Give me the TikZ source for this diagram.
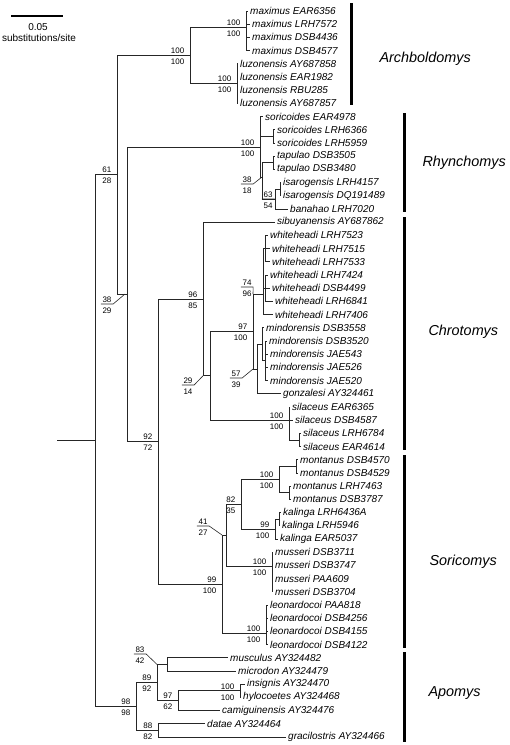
\documentclass[tikz,border=0pt]{standalone}
\usepackage{fontspec}
\setmainfont{Liberation Sans}
\tikzset{
  branch/.style={line width=0.9pt, color=black!85},
  leader/.style={line width=0.6pt, color=black!85},
  taxon/.style={anchor=west, inner xsep=2pt, inner ysep=1pt, font=\fontsize{10}{12}\selectfont\itshape},
  bsval/.style={inner sep=1.5pt, font=\fontsize{8}{9}\selectfont},
  genus/.style={anchor=west, font=\fontsize{14.4}{17}\selectfont\itshape},
  genusbar/.style={line width=3pt},
}
% support values above / below a stem
\newcommand{\bsupp}[3]{%
  \node[bsval, anchor=south east] (#1up) at ([xshift=-4pt]#1) {#2};
  \node[bsval, anchor=north east] (#1dn) at ([xshift=-4pt,yshift=-2pt]#1) {#3};}
% support values with an underline and a leader to the node
\newcommand{\leadsupp}[5]{%
  \node[bsval, anchor=south] (#1up) at (#2) {#4};
  \node[bsval, anchor=north] (#1dn) at ([yshift=-2pt]#2) {#5};
  \draw[leader] (#1up.south west) -- (#1up.south east) -- (#3);}

\begin{document}
\begin{tikzpicture}[x=1pt, y=-1pt]
  \useasboundingbox (0,0) rectangle (510,745);

  % scale bar
  \draw[line width=1.2pt] (11,16) -- (63,16);
  \node (scnum) at (38,27) {\fontsize{10}{12}\selectfont 0.05};
  \node (sctxt) at (39,38) {\fontsize{10}{12}\selectfont substitutions/site};

  % internal nodes
  \coordinate (root) at (57,440.6);
  \coordinate (nC) at (95,440.6);
  \coordinate (nA) at (117,174.7);
  \coordinate (nAr) at (190,55.3);
  \coordinate (mx) at (246,27);
  \coordinate (lz) at (237,83.6);
  \coordinate (nB) at (127,294);
  \coordinate (nRh) at (260,147);
  \coordinate (sorP) at (273,136.4);
  \coordinate (nR2) at (262,177);
  \coordinate (tapP) at (273,162.8);
  \coordinate (isaB) at (275,199.1);
  \coordinate (isaP) at (280,189.2);
  \coordinate (n92) at (158,441.5);
  \coordinate (n96) at (203,299);
  \coordinate (n29) at (210,375.8);
  \coordinate (n97) at (253,331.5);
  \coordinate (wh) at (263,294);
  \coordinate (whA) at (265,248.6);
  \coordinate (whB) at (265.5,288.2);
  \coordinate (n57) at (257,369);
  \coordinate (mi) at (262,344.3);
  \coordinate (mi2) at (265,360.8);
  \coordinate (si) at (289,420);
  \coordinate (si2) at (299,440);
  \coordinate (n99) at (222,584);
  \coordinate (n41) at (226,535);
  \coordinate (n82) at (241,504.4);
  \coordinate (mo) at (279,479.6);
  \coordinate (mo1) at (296,466.4);
  \coordinate (mo2) at (289,492.8);
  \coordinate (ka) at (275,529.1);
  \coordinate (ka1) at (279,519.2);
  \coordinate (mu) at (272,566);
  \coordinate (le) at (266,633);
  \coordinate (n98) at (136,706.5);
  \coordinate (n89) at (157,682.5);
  \coordinate (n83) at (167,664.4);
  \coordinate (n97b) at (178,700.7);
  \coordinate (ins) at (240,690.8);
  \coordinate (n88) at (158,730.4);

  % taxa
  \node[taxon] (t1) at (248,11.0) {maximus EAR6356};
  \node[taxon] (t2) at (250,24.2) {maximus LRH7572};
  \node[taxon] (t3) at (250,37.4) {maximus DSB4436};
  \node[taxon] (t4) at (250,50.6) {maximus DSB4577};
  \node[taxon] (t5) at (238,63.8) {luzonensis AY687858};
  \node[taxon] (t6) at (238,77.0) {luzonensis EAR1982};
  \node[taxon] (t7) at (238,90.2) {luzonensis RBU285};
  \node[taxon] (t8) at (238,103.4) {luzonensis AY687857};
  \node[taxon] (t9) at (263,116.6) {soricoides EAR4978};
  \node[taxon] (t10) at (275,129.8) {soricoides LRH6366};
  \node[taxon] (t11) at (275,143.0) {soricoides LRH5959};
  \node[taxon] (t12) at (275,156.2) {tapulao DSB3505};
  \node[taxon] (t13) at (275,169.4) {tapulao DSB3480};
  \node[taxon] (t14) at (281,182.6) {isarogensis LRH4157};
  \node[taxon] (t15) at (281,195.8) {isarogensis DQ191489};
  \node[taxon] (t16) at (288,209.0) {banahao LRH7020};
  \node[taxon] (t17) at (275,222.2) {sibuyanensis AY687862};
  \node[taxon] (t18) at (268,235.4) {whiteheadi LRH7523};
  \node[taxon] (t19) at (270,248.6) {whiteheadi LRH7515};
  \node[taxon] (t20) at (270,261.8) {whiteheadi LRH7533};
  \node[taxon] (t21) at (268,275.0) {whiteheadi LRH7424};
  \node[taxon] (t22) at (270,288.2) {whiteheadi DSB4499};
  \node[taxon] (t23) at (273,301.4) {whiteheadi LRH6841};
  \node[taxon] (t24) at (273,314.6) {whiteheadi LRH7406};
  \node[taxon] (t25) at (264,327.8) {mindorensis DSB3558};
  \node[taxon] (t26) at (267,341.0) {mindorensis DSB3520};
  \node[taxon] (t27) at (268,354.2) {mindorensis JAE543};
  \node[taxon] (t28) at (268,367.4) {mindorensis JAE526};
  \node[taxon] (t29) at (268,380.6) {mindorensis JAE520};
  \node[taxon] (t30) at (281,393.8) {gonzalesi AY324461};
  \node[taxon] (t31) at (290,407.0) {silaceus EAR6365};
  \node[taxon] (t32) at (293,420.2) {silaceus DSB4587};
  \node[taxon] (t33) at (301,433.4) {silaceus LRH6784};
  \node[taxon] (t34) at (301,446.6) {silaceus EAR4614};
  \node[taxon] (t35) at (298,459.8) {montanus DSB4570};
  \node[taxon] (t36) at (298,473.0) {montanus DSB4529};
  \node[taxon] (t37) at (291,486.2) {montanus LRH7463};
  \node[taxon] (t38) at (291,499.4) {montanus DSB3787};
  \node[taxon] (t39) at (281,512.6) {kalinga LRH6436A};
  \node[taxon] (t40) at (280,525.8) {kalinga LRH5946};
  \node[taxon] (t41) at (278,539.0) {kalinga EAR5037};
  \node[taxon] (t42) at (273,552.2) {musseri DSB3711};
  \node[taxon] (t43) at (273,565.4) {musseri DSB3747};
  \node[taxon] (t44) at (273,578.6) {musseri PAA609};
  \node[taxon] (t45) at (273,591.8) {musseri DSB3704};
  \node[taxon] (t46) at (268,605.0) {leonardocoi PAA818};
  \node[taxon] (t47) at (268,618.2) {leonardocoi DSB4256};
  \node[taxon] (t48) at (268,631.4) {leonardocoi DSB4155};
  \node[taxon] (t49) at (268,644.6) {leonardocoi DSB4122};
  \node[taxon] (t50) at (228,657.8) {musculus AY324482};
  \node[taxon] (t51) at (236,671.0) {microdon AY324479};
  \node[taxon] (t52) at (245,684.2) {insignis AY324470};
  \node[taxon] (t53) at (241,697.4) {hylocoetes AY324468};
  \node[taxon] (t54) at (220,710.6) {camiguinensis AY324476};
  \node[taxon] (t55) at (205,723.8) {datae AY324464};
  \node[taxon] (t56) at (286,737.0) {gracilostris AY324466};

  % branches
  \draw[branch] (root) -- (nC);
  \draw[branch] (nC) |- (nA);  \draw[branch] (nC) |- (n98);
  \draw[branch] (nA) |- (nAr); \draw[branch] (nA) |- (nB);
  \draw[branch] (nAr) |- (mx); \draw[branch] (nAr) |- (lz);
  \foreach \i in {1,...,4} \draw[branch] (mx) |- (t\i.west);
  \foreach \i in {5,...,8} \draw[branch] (lz) |- (t\i.west);
  \draw[branch] (nB) |- (nRh); \draw[branch] (nB) |- (n92);
  \draw[branch] (nRh) |- (t9.west); \draw[branch] (nRh) |- (sorP); \draw[branch] (nRh) |- (nR2);
  \foreach \i in {10,11} \draw[branch] (sorP) |- (t\i.west);
  \draw[branch] (nR2) |- (tapP); \draw[branch] (nR2) |- (isaB);
  \foreach \i in {12,13} \draw[branch] (tapP) |- (t\i.west);
  \draw[branch] (isaB) |- (isaP); \draw[branch] (isaB) |- (t16.west);
  \foreach \i in {14,15} \draw[branch] (isaP) |- (t\i.west);
  \draw[branch] (n92) |- (n96); \draw[branch] (n92) |- (n99);
  \draw[branch] (n96) |- (t17.west); \draw[branch] (n96) |- (n29);
  \draw[branch] (n29) |- (n97); \draw[branch] (n29) |- (si);
  \draw[branch] (n97) |- (wh); \draw[branch] (n97) |- (n57);
  \draw[branch] (wh) |- (whA); \draw[branch] (wh) |- (whB); \draw[branch] (wh) |- (t24.west);
  \foreach \i in {18,19,20} \draw[branch] (whA) |- (t\i.west);
  \foreach \i in {21,22,23} \draw[branch] (whB) |- (t\i.west);
  \draw[branch] (n57) |- (mi); \draw[branch] (n57) |- (t30.west);
  \draw[branch] (mi) |- (t25.west); \draw[branch] (mi) |- (mi2);
  \foreach \i in {26,...,29} \draw[branch] (mi2) |- (t\i.west);
  \draw[branch] (si) |- (t31.west); \draw[branch] (si) |- (t32.west); \draw[branch] (si) |- (si2);
  \foreach \i in {33,34} \draw[branch] (si2) |- (t\i.west);
  \draw[branch] (n99) |- (n41); \draw[branch] (n99) |- (le);
  \draw[branch] (n41) |- (n82); \draw[branch] (n41) |- (mu);
  \draw[branch] (n82) |- (mo); \draw[branch] (n82) |- (ka);
  \draw[branch] (mo) |- (mo1); \draw[branch] (mo) |- (mo2);
  \foreach \i in {35,36} \draw[branch] (mo1) |- (t\i.west);
  \foreach \i in {37,38} \draw[branch] (mo2) |- (t\i.west);
  \draw[branch] (ka) |- (ka1); \draw[branch] (ka) |- (t41.west);
  \foreach \i in {39,40} \draw[branch] (ka1) |- (t\i.west);
  \foreach \i in {42,...,45} \draw[branch] (mu) |- (t\i.west);
  \foreach \i in {46,...,49} \draw[branch] (le) |- (t\i.west);
  \draw[branch] (n98) |- (n89); \draw[branch] (n98) |- (n88);
  \draw[branch] (n89) |- (n83); \draw[branch] (n89) |- (n97b);
  \foreach \i in {50,51} \draw[branch] (n83) |- (t\i.west);
  \draw[branch] (n97b) |- (ins); \draw[branch] (n97b) |- (t54.west);
  \foreach \i in {52,53} \draw[branch] (ins) |- (t\i.west);
  \foreach \i in {55,56} \draw[branch] (n88) |- (t\i.west);

  % support values
  \bsupp{nAr}{100}{100}
  \bsupp{mx}{100}{100}
  \bsupp{lz}{100}{100}
  \bsupp{nA}{61}{28}
  \bsupp{nRh}{100}{100}
  \bsupp{n96}{96}{85}
  \bsupp{n97}{97}{100}
  \bsupp{si}{100}{100}
  \bsupp{n92}{92}{72}
  \bsupp{n99}{99}{100}
  \bsupp{n82}{82}{35}
  \bsupp{mo}{100}{100}
  \bsupp{ka}{99}{100}
  \bsupp{mu}{100}{100}
  \bsupp{le}{100}{100}
  \bsupp{n98}{98}{98}
  \bsupp{n89}{89}{92}
  \bsupp{n97b}{97}{62}
  \bsupp{ins}{100}{100}
  \bsupp{n88}{88}{82}
  \leadsupp{nB}{107,304}{[xshift=-2pt]nB}{38}{29}
  \leadsupp{nR2}{247,184}{nR2}{38}{18}
  \leadsupp{wh}{247,287}{[xshift=-10pt]wh}{74}{96}
  \leadsupp{n29}{188,385}{[xshift=-7pt]n29}{29}{14}
  \leadsupp{n57}{236,378}{[xshift=-4pt]n57}{57}{39}
  \leadsupp{isaB}{268,199}{isaB}{63}{54}
  \leadsupp{n41}{203,526}{[xshift=-4pt]n41}{41}{27}
  \leadsupp{n83}{140,654}{[xshift=-10pt]n83}{83}{42}

  % genera
  \draw[genusbar] (351,3) -- (351,105);
  \node[genus] (gArch) at (376,59) {Archboldomys};
  \draw[genusbar] (404,113) -- (404,212);
  \node[genus] (gRhyn) at (419,163) {Rhynchomys};
  \draw[genusbar] (404,217) -- (404,450);
  \node[genus] (gChro) at (425,332) {Chrotomys};
  \draw[genusbar] (404,455) -- (404,648);
  \node[genus] (gSori) at (426,562) {Soricomys};
  \draw[genusbar] (404,652) -- (404,742);
  \node[genus] (gApom) at (425,693) {Apomys};
\end{tikzpicture}
\end{document}
